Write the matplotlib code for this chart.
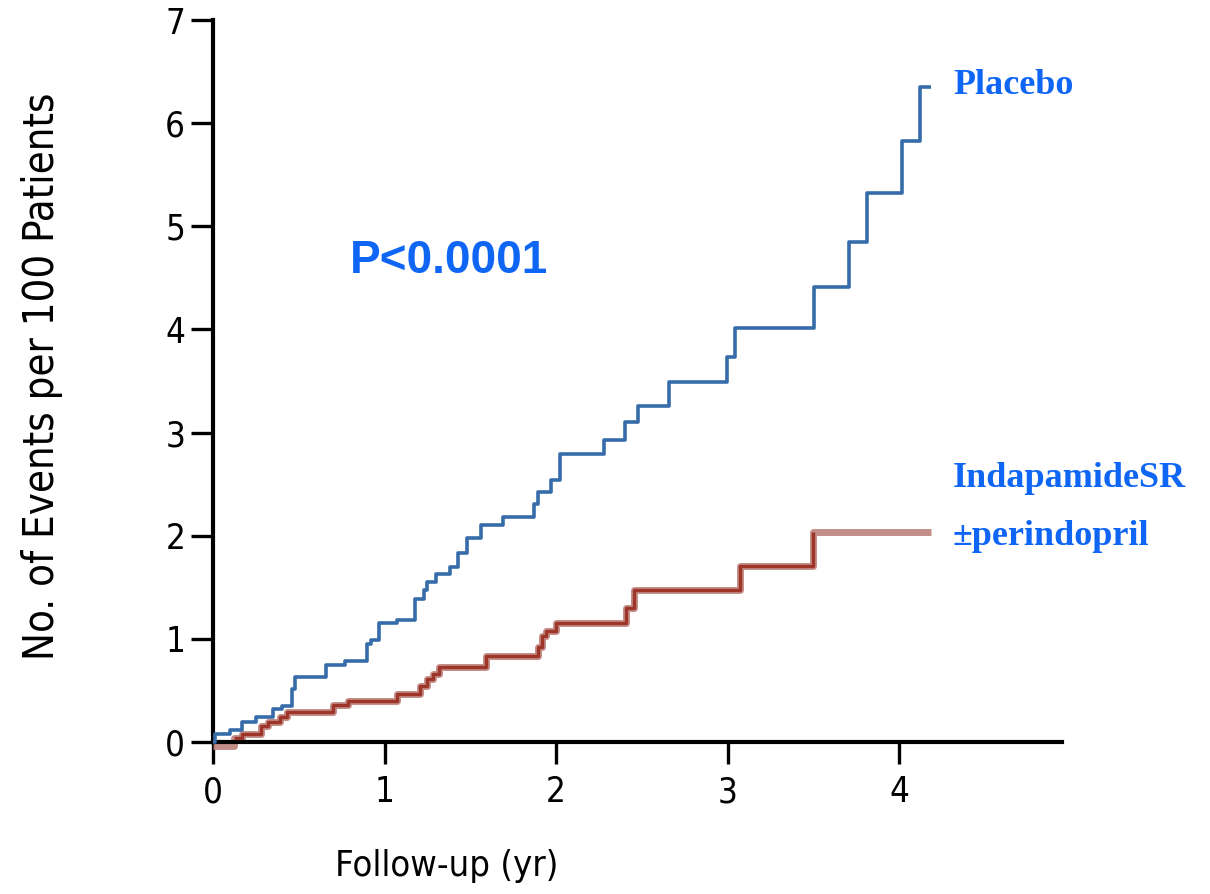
import numpy as np
import matplotlib
matplotlib.use("Agg")
import matplotlib.pyplot as plt

# ------------------------------------------------------------
# 데이터
# ------------------------------------------------------------
placebo_x = [0.0, 0.01, 0.10, 0.17, 0.25, 0.35, 0.40, 0.46, 0.48, 0.66, 0.77,
             0.895, 0.92, 0.97, 1.07, 1.18, 1.23, 1.25, 1.30, 1.38, 1.43,
             1.48, 1.56, 1.69, 1.87, 1.895, 1.97, 2.025, 2.28, 2.405, 2.48,
             2.66, 2.995, 3.045, 3.505, 3.71, 3.815, 4.02, 4.12, 4.185]
placebo_y = [0.0, 0.075, 0.12, 0.19, 0.24, 0.32, 0.35, 0.51, 0.63, 0.75, 0.79,
             0.95, 0.99, 1.15, 1.18, 1.39, 1.47, 1.55, 1.63, 1.70, 1.83,
             1.98, 2.10, 2.18, 2.31, 2.42, 2.54, 2.79, 2.93, 3.10, 3.26,
             3.49, 3.73, 4.01, 4.41, 4.85, 5.32, 5.83, 6.35, 6.35]

active_x = [0.0, 0.12, 0.17, 0.28, 0.32, 0.39, 0.43, 0.70, 0.79, 1.07, 1.205,
            1.25, 1.28, 1.32, 1.59, 1.895, 1.92, 1.94, 2.0, 2.41, 2.455,
            3.07, 3.50, 4.185]
active_y = [-0.04, 0.035, 0.08, 0.155, 0.19, 0.24, 0.29, 0.36, 0.40, 0.47, 0.54,
            0.61, 0.66, 0.73, 0.83, 0.92, 1.03, 1.08, 1.15, 1.30, 1.47,
            1.71, 2.04, 2.04]

x_ticks = [0, 1, 2, 3, 4]
y_ticks = [0, 1, 2, 3, 4, 5, 6, 7]

BLUE_LINE = "#376caa"
RED_DARK = "#9e3529"
RED_LIGHT = "#bd817b"
TEXT_BLUE = "#0f66f5"

# ------------------------------------------------------------
# 그림
# ------------------------------------------------------------
fig = plt.figure(figsize=(12.1, 8.94), dpi=100)
ax = fig.add_axes([213 / 1210, 1 - 742 / 894, (1062 - 213) / 1210, (742 - 20) / 894])

ax.plot(active_x, active_y, drawstyle="steps-post", color=RED_LIGHT,
        linewidth=5.0, alpha=0.9, solid_capstyle="butt", clip_on=False, zorder=2)
ax.plot(active_x[1:-1], active_y[1:-1], drawstyle="steps-post", color=RED_DARK,
        linewidth=2.4, solid_capstyle="butt", clip_on=False, zorder=3)
ax.plot(placebo_x, placebo_y, drawstyle="steps-post", color=BLUE_LINE,
        linewidth=2.6, solid_capstyle="butt", clip_on=False, zorder=4)

ax.set_xlim(0, 4.95)
ax.set_ylim(0, 7)
ax.set_xticks(x_ticks)
ax.set_yticks(y_ticks)
ax.set_xticklabels([str(t) for t in x_ticks], fontstretch="condensed", fontsize=25)
ax.set_yticklabels([str(t) for t in y_ticks], fontstretch="condensed", fontsize=25)

for side in ["top", "right"]:
    ax.spines[side].set_visible(False)
for side in ["left", "bottom"]:
    ax.spines[side].set_linewidth(3.0)
ax.tick_params(axis="both", direction="out", length=16, width=2.4, color="black")
ax.tick_params(axis="x", pad=8)
ax.tick_params(axis="y", pad=4)

# 축 제목
fig.text(447 / 1210, 1 - 866 / 894, "Follow-up (yr)", fontstretch="condensed",
         fontsize=26, ha="center", va="center")
fig.text(42 / 1210, 1 - 376 / 894, "No. of Events per 100 Patients",
         fontstretch="condensed", fontsize=30, rotation=90, ha="center", va="center")

# 주석
fig.text(350 / 1210, 1 - 273 / 894, "P<0.0001", fontfamily="Liberation Sans",
         fontweight="bold", fontsize=33, color=TEXT_BLUE, ha="left", va="baseline")
fig.text(953 / 1210, 1 - 94 / 894, "Placebo", fontfamily="Liberation Serif",
         fontweight="bold", fontsize=26, color=TEXT_BLUE, ha="left", va="baseline")
fig.text(953 / 1210, 1 - 487 / 894, "IndapamideSR", fontfamily="Liberation Serif",
         fontweight="bold", fontsize=26, color=TEXT_BLUE, ha="left", va="baseline")
fig.text(953 / 1210, 1 - 545 / 894, "\u00b1perindopril", fontfamily="Liberation Serif",
         fontweight="bold", fontsize=26, color=TEXT_BLUE, ha="left", va="baseline")

fig.savefig("out.png", dpi=100)
